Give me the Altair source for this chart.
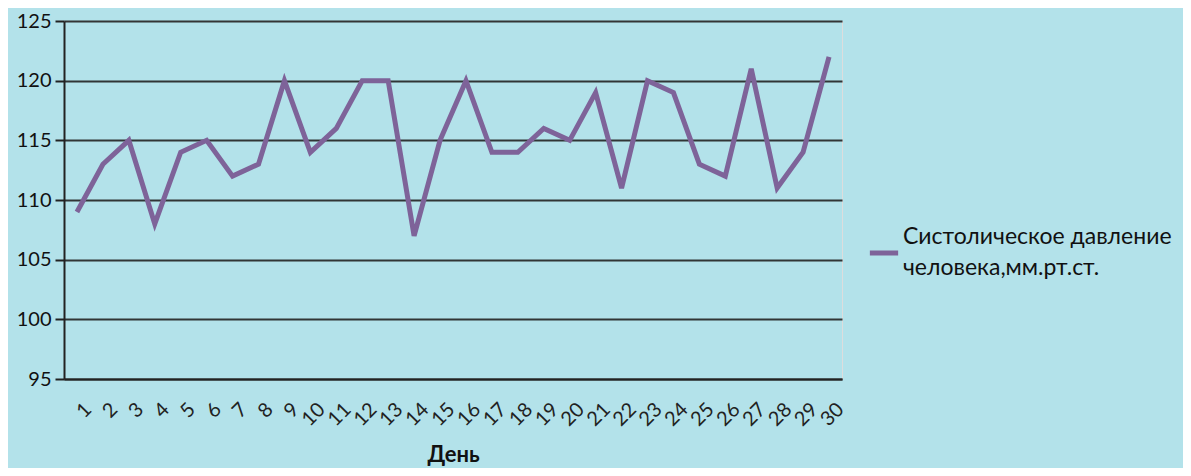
import altair as alt
import pandas as pd

days = [str(d) for d in range(1, 31)]
pressure = [109, 113, 115, 108, 114, 115, 112, 113, 120, 114,
            116, 120, 120, 107, 115, 120, 114, 114, 116, 115,
            119, 111, 120, 119, 113, 112, 121, 111, 114, 122]
series_name = "Систолическое давление человека,мм.рт.ст."
legend_lines = ["Систолическое давление", "человека,мм.рт.ст."]
y_ticks = [95, 100, 105, 110, 115, 120, 125]

df = pd.DataFrame({"day": days, "value": pressure, "series": series_name})

FONT = "Lato"
BG = "#B3E2EA"

label_expr = "['" + legend_lines[0] + "', '" + legend_lines[1] + "']"

chart = alt.Chart(df).mark_line(strokeWidth=5).encode(
    x=alt.X("day:N", sort=days, scale=alt.Scale(paddingInner=0, paddingOuter=0),
            axis=alt.Axis(title="День", labelAngle=-45, labelFontSize=20,
                          labelFont=FONT, labelColor="#222", ticks=False,
                          domain=True, domainColor="#222", domainWidth=2,
                          labelPadding=20, labelOffset=4, titleFont=FONT, titleFontSize=22,
                          titleFontWeight="bold", titleColor="#111",
                          titleY=75, titleBaseline="middle", grid=False)),
    y=alt.Y("value:Q", scale=alt.Scale(domain=[95, 125], nice=False, zero=False),
            axis=alt.Axis(title=None, values=y_ticks, labelFontSize=20,
                          labelFont=FONT, labelColor="#111", tickSize=9,
                          tickColor="#222", tickWidth=2, domain=True,
                          domainColor="#222", domainWidth=2, labelPadding=4,
                          grid=True, gridColor="#222", gridWidth=2, gridOpacity=0.9)),
    color=alt.Color("series:N", scale=alt.Scale(range=["#7E6399"]),
                    legend=alt.Legend(title=None, orient="none", legendX=803, legendY=215,
                                      symbolType="stroke", symbolStrokeWidth=5,
                                      symbolSize=800, labelFont=FONT, labelFontSize=23,
                                      labelColor="#111", labelLimit=400, labelOffset=2,
                                      labelBaseline="line-bottom",
                                      labelExpr=label_expr)),
).properties(
    width=778, height=358,
    background=BG,
    padding={"left": 56, "top": 13, "right": 341, "bottom": 89},
    autosize=alt.AutoSizeParams(type="none"),
).configure_view(fill=BG, stroke=None).configure(
    style={"guide-label": {"lineHeight": 31}}
)

chart.save("out.html", embed_options={"renderer": "svg", "actions": False})
